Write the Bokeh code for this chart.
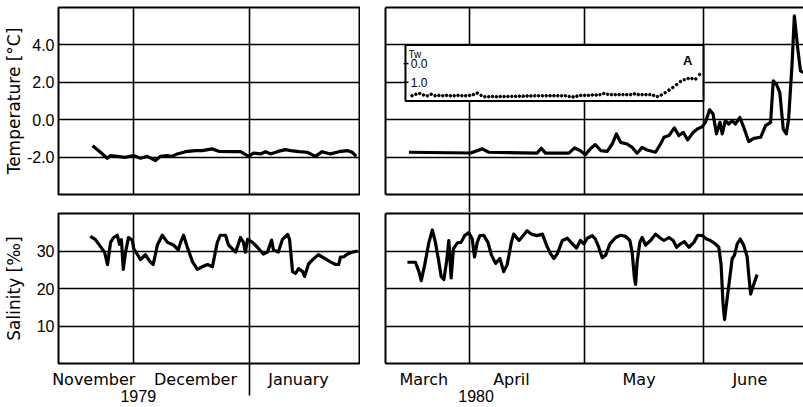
import pandas as pd
from bokeh.plotting import figure
from bokeh.models import (Range1d, LinearAxis, FixedTicker, Grid, PrintfTickFormatter,
                          BoxAnnotation, Label)
from bokeh.layouts import column, row
from bokeh.embed import file_html
from bokeh.resources import INLINE

# ---------------- data ----------------
WINTER_REF = "1979-12-01"   # day 0 of the 1979/80 winter series
SPRING_REF = "1980-04-01"   # day 0 of the 1980 spring series

winter_temp_day = [-10.9, -8.8, -7.0, -6.1, -4.4, -2.1, 0.0, 1.9, 3.7, 5.9,
                   7.2, 9.0, 10.3, 11.7, 13.9, 16.6, 18.4, 21.0, 22.8, 26.4,
                   28.6, 30.8, 32.1, 33.9, 35.3, 36.6, 38.4, 40.6, 42.0, 44.2,
                   46.4, 48.6, 50.4, 52.6, 54.9, 57.1, 58.4, 59.5]
winter_temp = [-1.39, -1.74, -2.06, -1.92, -1.96, -2.01, -1.92, -2.06, -1.96, -2.19,
               -1.96, -1.92, -1.96, -1.83, -1.71, -1.65, -1.65, -1.56, -1.69, -1.71,
               -1.71, -1.96, -1.78, -1.83, -1.71, -1.83, -1.71, -1.60, -1.65, -1.71,
               -1.74, -1.96, -1.71, -1.83, -1.71, -1.65, -1.74, -1.96]

winter_sal_day = [-11.5, -10.2, -7.7, -6.9, -6.1, -5.3, -4.3, -3.7, -3.2, -2.7,
                  -2.1, -1.3, -0.3, 0.1, 1.1, 1.9, 3.2, 4.5, 5.3, 6.4,
                  7.7, 9.1, 10.7, 12.0, 12.6, 13.4, 14.4, 15.8, 17.1, 18.4,
                  19.8, 21.1, 22.4, 23.2, 24.6, 25.4, 27.3, 28.6, 29.4, 29.9,
                  30.5, 31.8, 33.1, 34.7, 35.8, 36.9, 37.4, 38.7, 39.8, 41.2,
                  41.7, 42.5, 43.3, 44.1, 45.2, 45.7, 46.8, 48.1, 49.4, 51.3,
                  52.6, 54.0, 54.8, 55.3, 56.1, 57.2, 58.5, 59.9]
winter_sal = [33.9, 33.1, 29.7, 26.4, 32.3, 33.6, 34.2, 31.8, 33.0, 25.1,
              29.7, 33.6, 32.9, 30.6, 29.0, 27.7, 29.0, 27.1, 26.4, 31.6,
              34.2, 32.3, 31.6, 30.3, 32.3, 34.2, 31.0, 27.1, 25.1, 25.8,
              26.4, 25.8, 32.3, 34.2, 34.2, 31.6, 29.7, 33.6, 32.3, 29.7,
              33.1, 32.3, 31.0, 29.2, 29.7, 32.9, 30.3, 29.7, 33.1, 34.4,
              33.1, 24.5, 24.0, 25.3, 24.5, 23.2, 26.6, 27.9, 29.0, 27.9,
              27.1, 26.4, 26.4, 28.4, 28.4, 29.2, 29.7, 30.0]

spring_temp_day = [-15.8, 0.3, 3.3, 5.0, 17.6, 18.7, 19.8, 25.9, 27.4, 28.8,
                   30.2, 31.5, 32.8, 34.2, 35.9, 37.2, 38.3, 39.4, 41.1, 42.4,
                   43.7, 45.0, 46.3, 48.5, 49.8, 50.7, 52.0, 53.4, 54.6, 55.7,
                   56.9, 58.3, 59.4, 60.7, 61.5, 62.6, 63.5, 64.4, 65.3, 65.9,
                   66.7, 67.6, 68.5, 69.3, 70.5, 71.5, 72.8, 74.1, 75.9, 77.2,
                   78.5, 79.2, 80.0, 80.9, 81.8, 82.6, 83.2, 84.1, 84.7, 85.6,
                   86.3, 87.1]
spring_temp = [-1.74, -1.78, -1.56, -1.74, -1.79, -1.53, -1.79, -1.79, -1.51, -1.65,
               -1.87, -1.56, -1.33, -1.65, -1.69, -1.30, -0.76, -1.21, -1.30, -1.48,
               -1.79, -1.48, -1.62, -1.74, -1.30, -0.94, -0.85, -0.44, -0.85, -0.68,
               -1.08, -0.68, -0.50, -0.37, -0.14, 0.53, 0.30, -0.76, -0.14, -0.76,
               -0.05, -0.23, -0.05, -0.23, 0.12, -0.41, -1.17, -1.00, -0.94, -0.32,
               -0.14, 2.08, 1.90, 1.46, -0.50, -0.76, 0.04, 2.97, 5.55, 3.77,
               2.61, 2.52]

spring_sal_day = [-16.2, -14.1, -13.2, -12.6, -11.7, -10.6, -9.7, -8.9, -8.0, -7.4,
                  -6.7, -6.0, -5.4, -4.8, -4.2, -3.6, -3.1, -2.2, -1.3, -0.2,
                  0.7, 1.3, 2.0, 2.7, 3.7, 4.8, 5.7, 6.8, 7.9, 8.9,
                  9.8, 10.9, 11.5, 12.9, 14.0, 15.0, 16.1, 17.6, 19.0, 20.1,
                  21.1, 22.0, 22.9, 24.2, 25.5, 26.8, 27.9, 28.9, 29.8, 30.7,
                  32.0, 32.8, 33.7, 34.6, 35.5, 36.6, 38.1, 39.4, 40.7, 41.8,
                  42.4, 43.0, 43.3, 43.7, 44.4, 45.0, 45.9, 47.2, 48.5, 49.8,
                  50.7, 52.0, 53.1, 54.0, 55.0, 56.0, 57.2, 58.5, 59.5, 60.7,
                  61.8, 62.8, 64.1, 65.0, 65.6, 66.1, 66.5, 67.0, 67.9, 68.5,
                  69.1, 69.8, 70.6, 71.5, 72.4, 72.8, 73.3, 74.1, 75.0]
spring_sal = [27.0, 27.0, 24.5, 22.1, 26.3, 32.3, 35.6, 32.3, 27.1, 23.2,
              22.4, 27.1, 32.8, 22.8, 30.6, 31.5, 32.2, 32.3, 34.1, 34.9,
              33.2, 28.4, 32.3, 34.1, 34.2, 32.3, 28.9, 26.7, 28.0, 24.5,
              26.3, 32.3, 34.5, 32.8, 34.1, 35.4, 34.5, 34.1, 34.5, 31.5,
              29.3, 28.0, 29.3, 32.8, 33.4, 31.9, 30.8, 32.8, 31.9, 33.4,
              34.1, 33.2, 31.0, 28.2, 28.9, 31.9, 33.6, 34.2, 33.9, 32.8,
              29.7, 22.8, 21.1, 27.1, 32.3, 33.6, 31.6, 32.8, 34.5, 33.4,
              32.8, 33.6, 32.8, 31.0, 31.9, 32.5, 31.0, 32.3, 34.2, 34.1,
              33.2, 32.8, 31.9, 31.0, 26.3, 15.9, 11.7, 15.9, 23.2, 28.0,
              28.9, 31.9, 33.2, 31.5, 28.4, 23.7, 18.5, 21.1, 23.7]

# inset: daily water temperature Tw (dotted), first value on 17 March 1980
tw_start = "1980-03-17"
tw_values = [1.72, 1.64, 1.60, 1.68, 1.72, 1.64, 1.72, 1.70, 1.72, 1.70,
             1.72, 1.72, 1.70, 1.72, 1.72, 1.70, 1.66, 1.58, 1.70, 1.77,
             1.77, 1.76, 1.77, 1.76, 1.76, 1.76, 1.75, 1.75, 1.74, 1.74,
             1.73, 1.73, 1.72, 1.72, 1.72, 1.72, 1.72, 1.72, 1.72, 1.72,
             1.72, 1.76, 1.78, 1.74, 1.70, 1.70, 1.70, 1.68, 1.68, 1.66,
             1.60, 1.64, 1.66, 1.66, 1.66, 1.66, 1.66, 1.66, 1.62, 1.66,
             1.66, 1.66, 1.66, 1.70, 1.76, 1.68, 1.56, 1.42, 1.28, 1.12,
             0.96, 0.86, 0.80, 0.80, 0.82, 0.58]
tw_ticks = [0.0, 1.0]
tw_tick_labels = ["0.0", "1.0"]

temp_ticks = [-2, 0, 2, 4]
sal_ticks = [10, 20, 30]

winter_month_bounds = ["1979-12-01", "1980-01-01"]
spring_month_bounds = ["1980-04-01", "1980-05-01", "1980-06-01"]
winter_months = ["November", "December", "January"]
winter_month_pos = ["1979-11-20 10:00", "1979-12-17 14:00", "1980-01-14 02:00"]
spring_months = ["March", "April", "May", "June"]
spring_month_pos = ["1980-03-20 02:00", "1980-04-11 22:00", "1980-05-15 05:00", "1980-06-13 02:00"]
winter_year, winter_year_pos = "1979", "1979-12-02 07:00"
spring_year, spring_year_pos = "1980", "1980-04-02 17:00"
year_divider = "1980-01-01"
spring_divider = "1980-04-01"


# ---------------- helpers ----------------
def ms(s):
    return int(pd.Timestamp(s).value // 10**6)


def dates(ref, days):
    return (pd.Timestamp(ref) + pd.to_timedelta(days, unit="D")).to_numpy()


FONT_NUM = "Liberation Sans"
FONT_TXT = "DejaVu Sans"
LW_FRAME = 2
LW_GRID = 1.6
LW_DATA = 3.2
DIVIDER_OUT = 32
LABEL_GAP = 6


def make_fig(width, height, x_range, y_range, **borders):
    p = figure(width=width, height=height, x_range=x_range, y_range=y_range,
               x_axis_type=None, y_axis_type=None, toolbar_location=None,
               output_backend="svg", **borders)
    p.background_fill_color = "white"
    p.border_fill_color = "white"
    p.outline_line_color = None
    return p


def add_grid(p, dim, ticks):
    p.add_layout(Grid(dimension=dim, ticker=FixedTicker(ticks=ticks),
                      grid_line_color="black", grid_line_width=LW_GRID))


def edge_axis(minor=None, minor_out=0):
    return LinearAxis(ticker=FixedTicker(ticks=[], minor_ticks=minor or []),
                      major_tick_out=0, major_tick_in=0,
                      minor_tick_in=0, minor_tick_out=minor_out,
                      minor_tick_line_color="black", minor_tick_line_width=LW_GRID,
                      axis_line_color="black", axis_line_width=LW_FRAME,
                      major_label_standoff=0, major_label_text_font_size="0px")


def value_axis(ticks, formatter, label, label_standoff):
    return LinearAxis(ticker=FixedTicker(ticks=ticks), formatter=formatter,
                      axis_label=label, axis_label_standoff=label_standoff,
                      axis_label_text_font=FONT_TXT, axis_label_text_font_size="17px",
                      axis_label_text_font_style="normal", axis_label_text_color="black",
                      major_label_text_font=FONT_NUM, major_label_text_font_size="16px",
                      major_label_text_color="black", major_label_standoff=4,
                      major_tick_out=0, major_tick_in=0, minor_tick_out=0, minor_tick_in=0,
                      axis_line_color=None)


def month_axes(p, pos, names, year_pos, year, minor, line):
    ticks = [ms(d) for d in pos]
    out = DIVIDER_OUT if minor else 0
    months = LinearAxis(ticker=FixedTicker(ticks=ticks, minor_ticks=[ms(d) for d in minor]),
                        major_label_overrides={t: n for t, n in zip(ticks, names)},
                        major_label_text_font=FONT_TXT, major_label_text_font_size="16px",
                        major_label_text_color="black", major_label_standoff=LABEL_GAP - out,
                        major_tick_out=0, major_tick_in=0,
                        minor_tick_in=0, minor_tick_out=out,
                        minor_tick_line_color="black", minor_tick_line_width=LW_GRID,
                        axis_line_color="black" if line else None, axis_line_width=LW_FRAME)
    yt = ms(year_pos)
    years = LinearAxis(ticker=FixedTicker(ticks=[yt]),
                       major_label_overrides={yt: year},
                       major_label_text_font=FONT_NUM, major_label_text_font_size="16px",
                       major_label_text_color="black", major_label_standoff=-2,
                       major_tick_out=0, major_tick_in=0, minor_tick_out=0, minor_tick_in=0,
                       axis_line_color=None)
    p.add_layout(months, "below")
    p.add_layout(years, "below")


winter_x = Range1d(pd.Timestamp("1979-11-11 00:00").to_pydatetime(),
                   pd.Timestamp("1980-01-30 09:00").to_pydatetime())
spring_x = Range1d(pd.Timestamp("1980-03-10 02:00").to_pydatetime(),
                   pd.Timestamp("1980-06-27 02:00").to_pydatetime())
winter_bounds = [ms(d) for d in winter_month_bounds]
spring_bounds = [ms(d) for d in spring_month_bounds]

TOP_H, BOT_H = 212, 195
LEFT_W, RIGHT_W = 360, 443

# ---------------- top left: winter temperature ----------------
tl = make_fig(LEFT_W, TOP_H, winter_x, Range1d(-4, 6),
              min_border_top=7, min_border_bottom=18, min_border_left=58, min_border_right=1)
tl.outline_line_color = "black"
tl.outline_line_width = LW_FRAME
add_grid(tl, 0, winter_bounds)
add_grid(tl, 1, temp_ticks)
tl.add_layout(value_axis(temp_ticks, PrintfTickFormatter(format="%.1f"),
                         "Temperature [°C]", 0), "left")
tl.line(dates(WINTER_REF, winter_temp_day), winter_temp, line_width=LW_DATA,
        line_color="black", line_join="round")

# ---------------- top right: spring temperature + inset ----------------
tr = make_fig(RIGHT_W, TOP_H, spring_x, Range1d(-4, 6),
              min_border_top=7, min_border_bottom=18, min_border_left=25, min_border_right=0)
tr.extra_y_ranges = {"tw": Range1d(7, -3)}
add_grid(tr, 0, spring_bounds)
add_grid(tr, 1, temp_ticks)
tr.add_layout(edge_axis(), "left")
tr.add_layout(edge_axis(), "above")
tr.add_layout(edge_axis(minor=[ms(spring_divider)], minor_out=18), "below")
tr.line(dates(SPRING_REF, spring_temp_day), spring_temp, line_width=LW_DATA,
        line_color="black", line_join="round")

tr.add_layout(BoxAnnotation(left=ms("1980-03-15 07:00"), right=ms("1980-06-01"),
                            bottom=1.0, top=4.0, fill_color="white", fill_alpha=1.0,
                            line_color="black", line_width=LW_FRAME, line_alpha=1.0))
tw_x = pd.date_range(tw_start, periods=len(tw_values), freq="D").to_numpy()
tr.scatter(tw_x, tw_values, y_range_name="tw", size=2.6, color="black", level="overlay")
tick_x0 = ms("1980-03-14 19:00")
tick_x1 = ms("1980-03-16 02:00")
tr.segment(x0=[tick_x0] * len(tw_ticks), x1=[tick_x1] * len(tw_ticks), y0=tw_ticks, y1=tw_ticks,
           y_range_name="tw", line_color="black", line_width=1.5, level="overlay")
for v, t in zip(tw_ticks, tw_tick_labels):
    tr.add_layout(Label(x=ms("1980-03-16 16:00"), y=v, y_range_name="tw", text=t,
                        text_font=FONT_NUM, text_font_size="12px", text_color="black",
                        text_baseline="middle", text_align="left", level="overlay"))
tr.add_layout(Label(x=ms("1980-03-16 02:00"), y=-0.5, y_range_name="tw", text="Tw",
                    text_font=FONT_NUM, text_font_size="10px", text_color="black",
                    text_baseline="middle", text_align="left", level="overlay"))
tr.add_layout(Label(x=ms("1980-05-27 22:00"), y=-0.15, y_range_name="tw", text="A",
                    text_font=FONT_NUM, text_font_size="13px", text_font_style="bold",
                    text_color="black", text_baseline="middle", text_align="center",
                    level="overlay"))

# ---------------- bottom left: winter salinity ----------------
bl = make_fig(LEFT_W, BOT_H, winter_x, Range1d(0, 40),
              min_border_top=1, min_border_bottom=44, min_border_left=58, min_border_right=1)
bl.outline_line_color = "black"
bl.outline_line_width = LW_FRAME
add_grid(bl, 0, winter_bounds)
add_grid(bl, 1, sal_ticks)
bl.add_layout(value_axis(sal_ticks, PrintfTickFormatter(format="%d"), "Salinity [‰]", 10), "left")
month_axes(bl, winter_month_pos, winter_months, winter_year_pos, winter_year,
           [year_divider], line=False)
bl.line(dates(WINTER_REF, winter_sal_day), winter_sal, line_width=LW_DATA,
        line_color="black", line_join="round")

# ---------------- bottom right: spring salinity ----------------
br = make_fig(RIGHT_W, BOT_H, spring_x, Range1d(0, 40),
              min_border_top=1, min_border_bottom=44, min_border_left=25, min_border_right=0)
add_grid(br, 0, spring_bounds)
add_grid(br, 1, sal_ticks)
br.add_layout(edge_axis(), "left")
br.add_layout(edge_axis(), "above")
month_axes(br, spring_month_pos, spring_months, spring_year_pos, spring_year, [], line=True)
br.line(dates(SPRING_REF, spring_sal_day), spring_sal, line_width=LW_DATA,
        line_color="black", line_join="round")

layout = column(row(tl, tr), row(bl, br))
open("out.html", "w").write(file_html(layout, INLINE))
